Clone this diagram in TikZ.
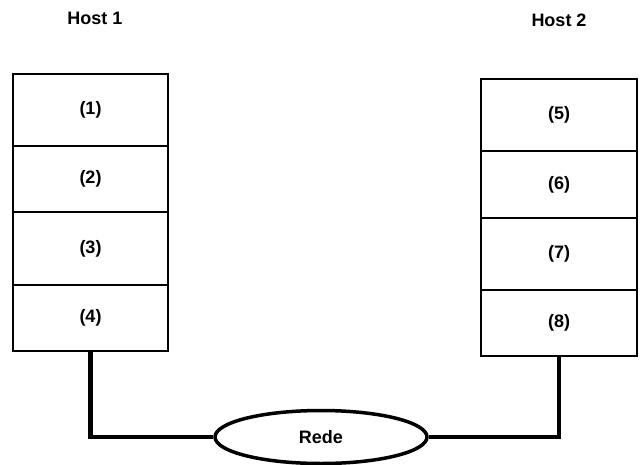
\documentclass[tikz,border=0pt]{standalone}
\usepackage{fontspec}
\setmainfont{Liberation Sans}
\usetikzlibrary{shapes.geometric}

\begin{document}
\begin{tikzpicture}[x=1pt,y=-1pt,
  every node/.style={font=\fontsize{18}{20}\selectfont\bfseries},
  layer/.style={draw,line width=1.5pt,shape=rectangle,inner sep=0pt},
  wire/.style={line width=4.5pt}]
  \useasboundingbox (0,0) rectangle (640,464);
  % Host 1
  \path (95,18) node (h1) {Host 1}
  (90.5,110) node[layer,minimum width=155pt,minimum height=72pt] (l1) {(1)}
  (90.5,179) node[layer,minimum width=155pt,minimum height=66pt] (l2) {(2)}
  (90.5,248.5) node[layer,minimum width=155pt,minimum height=73pt] (l3) {(3)}
  (90.5,318) node[layer,minimum width=155pt,minimum height=66pt] (l4) {(4)};
  % Host 2
  \path (559,20) node (h2) {Host 2}
  (559,115) node[layer,minimum width=156pt,minimum height=72pt] (l5) {(5)}
  (559,184.5) node[layer,minimum width=156pt,minimum height=67pt] (l6) {(6)}
  (559,254) node[layer,minimum width=156pt,minimum height=72pt] (l7) {(7)}
  (559,323) node[layer,minimum width=156pt,minimum height=66pt] (l8) {(8)};
  % Rede
  \path (321,437) node[draw,shape=ellipse,line width=3.5pt,inner sep=0pt,
    minimum width=212pt,minimum height=53pt] (rede) {Rede};
  \draw[wire] (l4.south) |- (rede.west);
  \draw[wire] (rede.east) -| (l8.south);
\end{tikzpicture}
\end{document}
